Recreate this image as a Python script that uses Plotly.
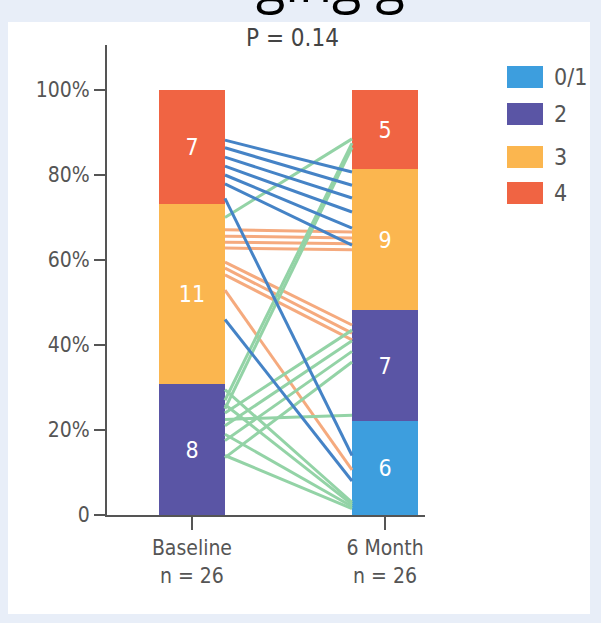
import plotly.graph_objects as go

# Grade distribution at each visit (patient counts)
timepoints = ["Baseline", "6 Month"]
n_patients = [26, 26]
grades = ["0/1", "2", "3", "4"]
counts_baseline = [0, 8, 11, 7]
counts_6month = [6, 7, 9, 5]
grade_colors = ["#3d9ede", "#5a55a5", "#fbb64f", "#f06443"]

# Individual patient trajectories: position (%) on each bar and line colour group
traj_baseline = [88.2, 86.4, 84.2, 82.1, 80.0, 77.9, 74.5, 46.0,
                 67.1, 65.6, 64.2, 62.8, 59.5, 58.1, 56.5, 52.9,
                 70.0, 27.0, 25.0, 24.0, 21.0, 17.5, 13.5, 22.5,
                 29.5, 26.0, 19.0, 14.0]
traj_6month = [80.7, 77.6, 74.6, 71.3, 67.5, 63.5, 14.0, 8.0,
               66.6, 65.2, 63.8, 62.4, 44.7, 42.8, 41.2, 10.6,
               88.5, 87.5, 86.5, 43.5, 41.0, 38.5, 36.0, 23.5,
               3.0, 2.5, 2.0, 1.5]
traj_group = ["blue"] * 8 + ["orange"] * 8 + ["green"] * 12
line_colors = {"blue": "#4583c6", "orange": "#f5aa7e", "green": "#93d3a6"}

p_value_text = "P = 0.14"
y_tickvals = [0, 20, 40, 60, 80, 100]
y_ticktext = ["0", "20%", "40%", "60%", "80%", "100%"]

W, H = 601, 623
ML, MR, MT, MB = 107, 176, 45, 108
plot_w = W - ML - MR
plot_h = H - MT - MB
bar_w = 0.342
x_pos = [0, 1]

FONT = "DejaVu Sans Condensed, Roboto, Arial, sans-serif"
GREY = "#555555"


def px(x):
    return (x - ML) / plot_w


def py(y):
    return (H - MB - y) / plot_h


tot_b = sum(counts_baseline)
tot_6 = sum(counts_6month)

fig = go.Figure()

for i, g in enumerate(grades):
    vals = [counts_baseline[i] / tot_b * 100, counts_6month[i] / tot_6 * 100]
    labels = [str(c) if c else "" for c in (counts_baseline[i], counts_6month[i])]
    fig.add_trace(go.Bar(
        x=x_pos, y=vals, width=bar_w, name=g,
        marker=dict(color=grade_colors[i], line=dict(width=0)),
        text=labels, textposition="inside", insidetextanchor="middle",
        textfont=dict(color="white", size=23, family=FONT),
        hoverinfo="skip", showlegend=False,
    ))

x_left = x_pos[0] + bar_w / 2
x_right = x_pos[1] - bar_w / 2
for grp in ["orange", "green", "blue"]:
    xs, ys = [], []
    for b, m, gname in zip(traj_baseline, traj_6month, traj_group):
        if gname == grp:
            xs += [x_left, x_right, None]
            ys += [b, m, None]
    fig.add_trace(go.Scatter(
        x=xs, y=ys, mode="lines",
        line=dict(color=line_colors[grp], width=3),
        hoverinfo="skip", showlegend=False,
    ))

shapes = [
    # white panel on the light frame
    dict(type="rect", xref="paper", yref="paper", layer="below",
         x0=px(8), x1=px(590), y0=py(614), y1=py(22),
         fillcolor="white", line=dict(width=0)),
]
annotations = [
    dict(text=p_value_text, xref="paper", yref="paper",
         x=px(292), y=py(38), xanchor="center", yanchor="middle",
         showarrow=False,
         font=dict(size=24, color="#444444", family=FONT)),
    dict(text="ging g", xref="paper", yref="paper",
         x=px(330), y=py(20), xanchor="center", yanchor="bottom",
         showarrow=False,
         font=dict(size=54, color="black", family="Open Sans, sans-serif")),
]

# Legend swatches
legend_centers = [77, 114, 157, 193]
for g, c, yc in zip(grades, grade_colors, legend_centers):
    shapes.append(dict(type="rect", xref="paper", yref="paper",
                       x0=px(507), x1=px(543), y0=py(yc + 11), y1=py(yc - 11),
                       fillcolor=c, line=dict(width=0)))
    annotations.append(dict(text=g, xref="paper", yref="paper",
                            x=px(552), y=py(yc), xanchor="left",
                            yanchor="middle", showarrow=False,
                            font=dict(size=23, color=GREY, family=FONT)))

fig.update_layout(
    width=W, height=H,
    margin=dict(l=ML, r=MR, t=MT, b=MB),
    paper_bgcolor="#e8eef8", plot_bgcolor="white",
    barmode="stack", bargap=0,
    shapes=shapes, annotations=annotations,
    showlegend=False,
    xaxis=dict(
        range=[-0.44, 1.207], tickmode="array", tickvals=x_pos,
        ticktext=[f"{t}<br>n = {n}" for t, n in zip(timepoints, n_patients)],
        showgrid=False, zeroline=False,
        showline=True, linecolor=GREY, linewidth=2,
        ticks="outside", ticklen=13, tickwidth=2, tickcolor=GREY,
        tickfont=dict(size=21, color=GREY, family=FONT),
    ),
    yaxis=dict(
        range=[0, (H - MB - MT) / 4.25], tickmode="array",
        tickvals=y_tickvals, ticktext=y_ticktext,
        showgrid=False, zeroline=False,
        showline=True, linecolor=GREY, linewidth=2,
        ticks="outside", ticklen=11, tickwidth=2, tickcolor=GREY,
        tickfont=dict(size=21, color=GREY, family=FONT),
    ),
)

fig.write_html("out.html")
